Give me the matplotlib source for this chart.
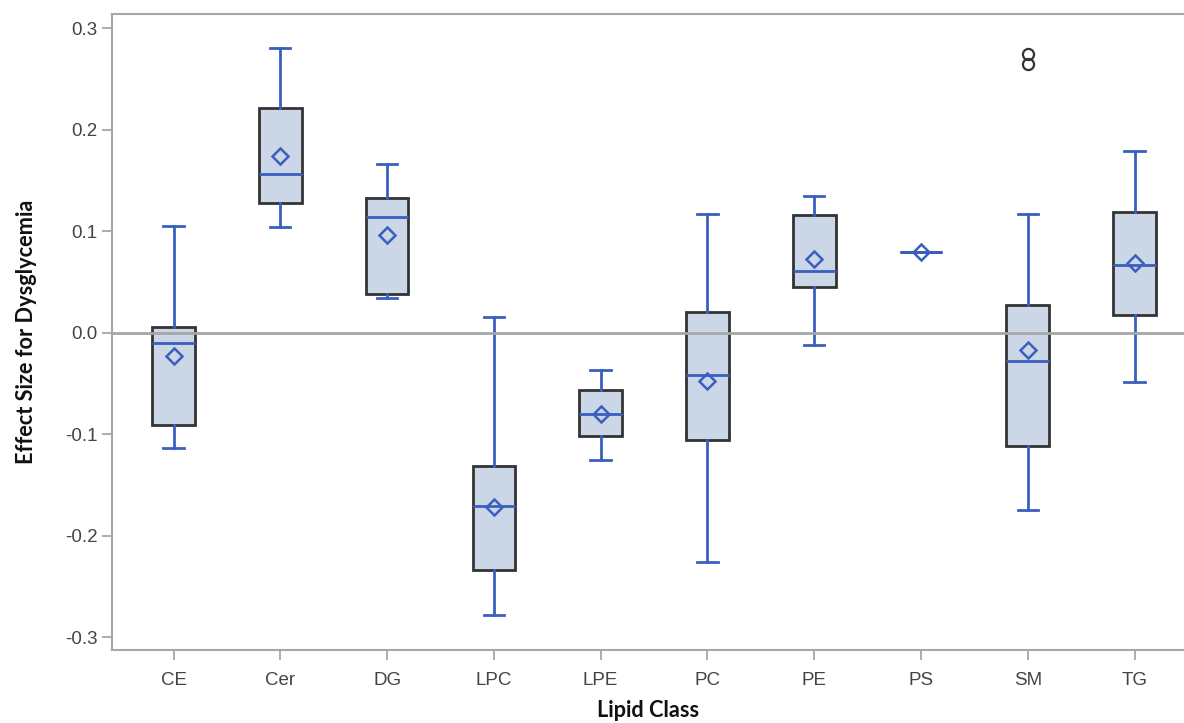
import numpy as np
import matplotlib
matplotlib.use("Agg")
import matplotlib.pyplot as plt
from matplotlib.ticker import FixedLocator, FuncFormatter

plt.rcParams['axes.unicode_minus'] = False

# lipid classes and box statistics
classes = ["CE", "Cer", "DG", "LPC", "LPE", "PC", "PE", "PS", "SM", "TG"]
whis_hi = [0.105, 0.280, 0.166, 0.015, -0.037, 0.117, 0.134, 0.079, 0.117, 0.179]
q3 = [0.005, 0.221, 0.133, -0.132, -0.057, 0.020, 0.116, 0.079, 0.027, 0.119]
median = [-0.010, 0.156, 0.114, -0.171, -0.080, -0.042, 0.061, 0.079, -0.028, 0.067]
mean = [-0.023, 0.174, 0.096, -0.172, -0.080, -0.048, 0.072, 0.079, -0.017, 0.068]
q1 = [-0.091, 0.128, 0.038, -0.234, -0.102, -0.106, 0.045, 0.079, -0.112, 0.017]
whis_lo = [-0.114, 0.104, 0.034, -0.278, -0.126, -0.226, -0.012, 0.079, -0.175, -0.049]
outliers = [[], [], [], [], [], [], [], [], [0.274, 0.265], []]

yticks = [-0.3, -0.2, -0.1, 0.0, 0.1, 0.2, 0.3]

blue = "#3A5FBE"
fill = "#CBD6E6"
dark = "#333333"
grey = "#A6A6A6"

stats = []
for i, c in enumerate(classes):
    stats.append(dict(label=c, med=median[i], q1=q1[i], q3=q3[i],
                      whislo=whis_lo[i], whishi=whis_hi[i],
                      mean=mean[i], fliers=np.array(outliers[i])))

fig = plt.figure(figsize=(11.84, 7.23), dpi=100)
ax = fig.add_axes([112/1184, 73/723, 1 - 112/1184, (650-14)/723])

pos = np.arange(1, len(classes) + 1)
ax.bxp(stats, positions=pos, widths=0.40, capwidths=0.19,
       patch_artist=True, showmeans=True, showfliers=True,
       boxprops=dict(facecolor=fill, edgecolor=dark, linewidth=2),
       medianprops=dict(color=blue, linewidth=2),
       whiskerprops=dict(color=blue, linewidth=2),
       capprops=dict(color=blue, linewidth=2),
       meanprops=dict(marker="D", markerfacecolor="none", markeredgecolor=blue,
                      markeredgewidth=1.8, markersize=8.5),
       flierprops=dict(marker="o", markerfacecolor="none", markeredgecolor=dark,
                       markeredgewidth=1.6, markersize=8))

ax.axhline(0, color=grey, linewidth=2, zorder=2.5)

ax.set_xlim(0.424, 10.463)
ax.set_ylim(-0.3128, 0.3138)
ax.yaxis.set_major_locator(FixedLocator(yticks))
ax.yaxis.set_major_formatter(FuncFormatter(lambda v, p: f"{v:.1f}"))
ax.set_xticks(pos)
ax.set_xticklabels(classes)

for s in ["left", "bottom", "top"]:
    ax.spines[s].set_color(grey)
    ax.spines[s].set_linewidth(1.5)
ax.spines["right"].set_visible(False)

ax.tick_params(axis="both", colors=grey, length=7, width=1.3,
               labelcolor="#444444", labelsize=13.5)
ax.tick_params(axis="x", pad=9)
for lab in ax.get_xticklabels() + ax.get_yticklabels():
    lab.set_family(["Liberation Sans", "DejaVu Sans"])

ax.set_xlabel("Lipid Class", fontsize=15.7, fontweight="bold", color="#111111",
              family=["Lato", "DejaVu Sans"], labelpad=8)
ax.set_ylabel("Effect Size for Dysglycemia", fontsize=15.7, fontweight="bold",
              color="#111111", family=["Lato", "DejaVu Sans"], labelpad=20)

fig.savefig("out.png", dpi=100)
